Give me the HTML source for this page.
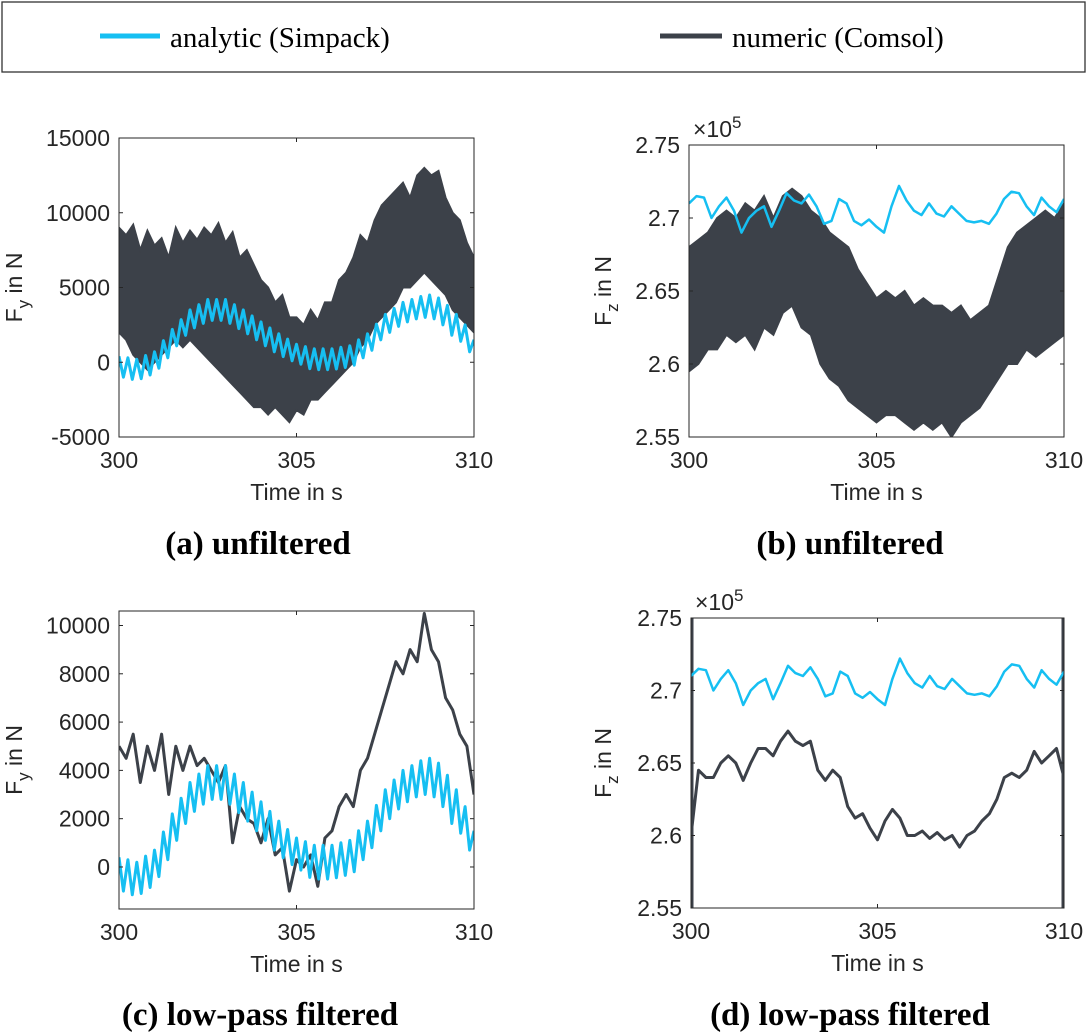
<!DOCTYPE html>
<html><head><meta charset="utf-8"><style>
body{margin:0;background:#fff;width:1088px;height:1032px;overflow:hidden}
svg{display:block}
.tk{font-family:"Liberation Sans",sans-serif;font-size:23px;fill:#262626}
.lg{font-family:"Liberation Serif",serif;font-size:29px;fill:#000}
.cap{font-family:"Liberation Serif",serif;font-size:33px;font-weight:bold;fill:#000}
</style></head><body>
<svg id="fig" width="1088" height="1032">
<g>
<rect x="2" y="2" width="1083" height="70" fill="#fff" stroke="#333" stroke-width="1.3"/>
<line x1="100" y1="36" x2="160" y2="36" stroke="#16bff2" stroke-width="5"/>
<text class="lg" x="170" y="47">analytic (Simpack)</text>
<line x1="660" y1="36" x2="722" y2="36" stroke="#3c4149" stroke-width="5"/>
<text class="lg" x="732" y="47">numeric (Comsol)</text>
</g>
<text class="cap" x="258" y="554" text-anchor="middle">(a) unfiltered</text>
<text class="cap" x="850" y="554" text-anchor="middle">(b) unfiltered</text>
<text class="cap" x="260" y="1025" text-anchor="middle">(c) low-pass filtered</text>
<text class="cap" x="850" y="1025" text-anchor="middle">(d) low-pass filtered</text>
</svg>
<script>
const xTicks=[300,305,310];
const fyAnalytic=[400,-1000,300,-1150,200,-1100,450,-850,700,-400,1450,300,2200,1100,2850,1800,3500,2300,3850,2600,4200,2800,4200,2800,4200,2600,3850,2250,3500,1900,3100,1500,2700,1100,2300,700,1900,380,1550,100,1200,-130,1050,-430,900,-500,900,-500,900,-450,1000,-350,1100,-200,1500,300,1900,800,2550,1500,3200,2000,3600,2400,4000,2700,4200,2900,4400,3000,4500,2900,4300,2500,3800,1800,3200,1400,2500,700,1500];
const fyNumUpper=[9000,8500,9200,7500,8800,7800,8300,7000,9000,8000,8800,8200,9000,8500,9300,8000,8700,7000,7500,6500,5500,5000,4000,4500,3000,3000,2500,3500,2800,4000,4000,5500,6000,7000,8500,8000,9500,10500,11000,11500,12000,11000,12500,13000,12500,12800,11000,10000,9500,8000,7000];
const fyNumLower=[2000,1500,500,0,-500,0,500,1000,1500,1000,1500,1000,500,0,-500,-1000,-1500,-2000,-2500,-3000,-3000,-3500,-3000,-3500,-4000,-3200,-3500,-2500,-2500,-2000,-1500,-1000,-500,0,1000,1500,2500,3000,3500,4000,5000,5000,5500,6000,5500,5000,4500,3500,3000,2500,2000];
const fyNumFiltered=[5000,4500,5500,3500,5000,4000,5500,3000,5000,4000,5000,4200,4500,4000,3500,4200,1000,2500,2000,1800,1000,2000,500,800,-1000,300,0,500,-800,1200,1500,2500,3000,2500,4000,4500,5500,6500,7500,8500,8000,9000,8500,10500,9000,8500,7000,6500,5500,5000,3000];
const fzAnalytic=[2.710,2.715,2.714,2.700,2.708,2.714,2.705,2.690,2.700,2.705,2.708,2.694,2.705,2.717,2.712,2.710,2.716,2.708,2.696,2.698,2.713,2.710,2.698,2.695,2.699,2.694,2.690,2.708,2.722,2.712,2.705,2.702,2.710,2.703,2.701,2.708,2.703,2.698,2.697,2.698,2.696,2.703,2.713,2.718,2.717,2.708,2.702,2.714,2.708,2.704,2.713];
const fzNumUpper=[2.68,2.685,2.69,2.70,2.705,2.70,2.71,2.705,2.715,2.70,2.715,2.72,2.715,2.705,2.70,2.69,2.685,2.68,2.665,2.655,2.645,2.65,2.645,2.65,2.64,2.645,2.64,2.64,2.635,2.64,2.63,2.635,2.64,2.66,2.68,2.69,2.695,2.70,2.705,2.70,2.71];
const fzNumLower=[2.595,2.60,2.61,2.61,2.62,2.615,2.62,2.61,2.625,2.62,2.635,2.64,2.625,2.62,2.60,2.59,2.585,2.575,2.57,2.565,2.56,2.565,2.565,2.56,2.555,2.56,2.555,2.56,2.55,2.56,2.565,2.57,2.58,2.59,2.60,2.60,2.61,2.605,2.61,2.615,2.62];
const fzNumFiltered=[2.60,2.645,2.64,2.64,2.65,2.655,2.65,2.638,2.65,2.66,2.66,2.655,2.665,2.672,2.665,2.662,2.665,2.645,2.638,2.645,2.64,2.62,2.612,2.615,2.605,2.597,2.61,2.618,2.612,2.60,2.60,2.603,2.598,2.602,2.597,2.60,2.592,2.60,2.603,2.61,2.615,2.625,2.64,2.643,2.64,2.645,2.658,2.65,2.655,2.66,2.64];
const fzEdgeStart=[2.55,2.75];
const fzEdgeEnd=[2.75,2.55];
const fyTicksA=[-5000,0,5000,10000,15000];
const fyTicksC=[0,2000,4000,6000,8000,10000];
const fzTicks=[2.55,2.6,2.65,2.7,2.75];
const fzTickLabels=["2.55","2.6","2.65","2.7","2.75"];

const NS="http://www.w3.org/2000/svg";
const fig=document.getElementById('fig');
const BLUE="#16bff2",DARK="#3c4149";
function mk(tag,attrs,parent){const e=document.createElementNS(NS,tag);for(const k in attrs)e.setAttribute(k,attrs[k]);(parent||fig).appendChild(e);return e;}
function axes(o){
  const sx=v=>o.x0+(v-300)/10*(o.x1-o.x0);
  const sy=v=>o.yb-(v-o.ymin)/(o.ymax-o.ymin)*(o.yb-o.yt);
  const g=mk('g',{});
  
  
  mk('defs',{},g).innerHTML='<clipPath id="clip-'+o.name+'"><rect x="'+o.x0+'" y="'+o.yt+'" width="'+(o.x1-o.x0)+'" height="'+(o.yb-o.yt)+'"/></clipPath>';
  const bg=mk('rect',{x:o.x0,y:o.yt,width:o.x1-o.x0,height:o.yb-o.yt,fill:'#fff'},g);
  
  
  const data=mk('g',{'clip-path':'url(#clip-'+o.name+')'},g);
  return {sx,sy,g,data};
}
function linePath(arr,sx,sy,dt){return arr.map((v,i)=>(i?'L':'M')+sx(300+i*dt).toFixed(1)+','+sy(v).toFixed(1)).join('');}
function series(o){return 10/(o.length-1);}
function frame(ax,o,ticks,labels){
  const {sx,sy,g}=ax;
  const box=mk('rect',{x:o.x0,y:o.yt,width:o.x1-o.x0,height:o.yb-o.yt,fill:'none',stroke:'#262626','stroke-width':1},g);
  
  
  xTicks.forEach(t=>{
    mk('line',{x1:sx(t),x2:sx(t),y1:o.yb,y2:o.yb-4,stroke:'#262626'},g);
    mk('line',{x1:sx(t),x2:sx(t),y1:o.yt,y2:o.yt+4,stroke:'#262626'},g);
    const tx=mk('text',{class:'tk',x:sx(t),y:o.yb+31,'text-anchor':'middle'},g);tx.textContent=t;
    
    
  });
  ticks.forEach((t,i)=>{
    mk('line',{x1:o.x0,x2:o.x0+4,y1:sy(t),y2:sy(t),stroke:'#262626'},g);
    mk('line',{x1:o.x1,x2:o.x1-4,y1:sy(t),y2:sy(t),stroke:'#262626'},g);
    const tx=mk('text',{class:'tk',x:o.x0-9,y:sy(t)+8,'text-anchor':'end'},g);tx.textContent=labels?labels[i]:t;
    
    
  });
  const xl=mk('text',{class:'tk',x:(o.x0+o.x1)/2,y:o.yb+63,'text-anchor':'middle'},g);xl.textContent='Time in s';
  
  
  const yl=mk('text',{class:'tk',transform:'translate('+o.ylx+','+((o.yt+o.yb)/2)+') rotate(-90)','text-anchor':'middle'},g);
  yl.innerHTML='F<tspan dy="7" font-size="17">'+o.sub+'</tspan><tspan dy="-7"> in N</tspan>';
  
  
  if(o.exp){const ex=mk('text',{class:'tk',x:o.x0+4,y:o.yt-8},g);ex.innerHTML='×10<tspan dy="-9" font-size="17">5</tspan>';
    
    }
}
function band(ax,up,lo,name){
  const {sx,sy,data}=ax;const du=10/(up.length-1),dl=10/(lo.length-1);
  let d=up.map((v,i)=>(i?'L':'M')+sx(300+i*du).toFixed(1)+','+sy(v).toFixed(1)).join('');
  for(let i=lo.length-1;i>=0;i--)d+='L'+sx(300+i*dl).toFixed(1)+','+sy(lo[i]).toFixed(1);
  const p=mk('path',{d:d+'Z',fill:DARK,stroke:DARK,'stroke-width':2,'stroke-linejoin':'miter'},data);
  
  
}
function line(ax,arr,color,w,name){
  const p=mk('path',{d:linePath(arr,ax.sx,ax.sy,series(arr)),fill:'none',stroke:color,'stroke-width':w,'stroke-linejoin':'round'},ax.data);
  
  
}
const oA={name:'plot-a',x0:119,x1:474,yt:138,yb:437,ymin:-5000,ymax:15000,ylx:22,sub:'y'};
const A=axes(oA);band(A,fyNumUpper,fyNumLower,'numeric-fy-unfiltered');line(A,fyAnalytic,BLUE,3,'analytic-fy');frame(A,oA,fyTicksA);
const oB={name:'plot-b',x0:689,x1:1064,yt:145,yb:437,ymin:2.55,ymax:2.75,ylx:611,sub:'z',exp:true};
const B=axes(oB);band(B,fzNumUpper,fzNumLower,'numeric-fz-unfiltered');line(B,fzAnalytic,BLUE,2.5,'analytic-fz');frame(B,oB,fzTicks,fzTickLabels);
const oC={name:'plot-c',x0:119,x1:474,yt:611,yb:909,ymin:-1740,ymax:10600,ylx:22,sub:'y'};
const C=axes(oC);line(C,fyNumFiltered,DARK,3,'numeric-fy-filtered');line(C,fyAnalytic,BLUE,3,'analytic-fy-c');frame(C,oC,fyTicksC);
const oD={name:'plot-d',x0:691,x1:1064,yt:618,yb:908,ymin:2.55,ymax:2.75,ylx:611,sub:'z',exp:true};
const D=axes(oD);line(D,fzNumFiltered,DARK,3,'numeric-fz-filtered');
[[fzEdgeStart,300],[fzEdgeEnd,310]].forEach(([arr,t])=>{
  const l=mk('line',{x1:D.sx(t),x2:D.sx(t),y1:D.sy(arr[0]),y2:D.sy(arr[1]),stroke:DARK,'stroke-width':5},D.data);
  
  
});
line(D,fzAnalytic,BLUE,2.5,'analytic-fz-d');frame(D,oD,fzTicks,fzTickLabels);
</script>
</body></html>
